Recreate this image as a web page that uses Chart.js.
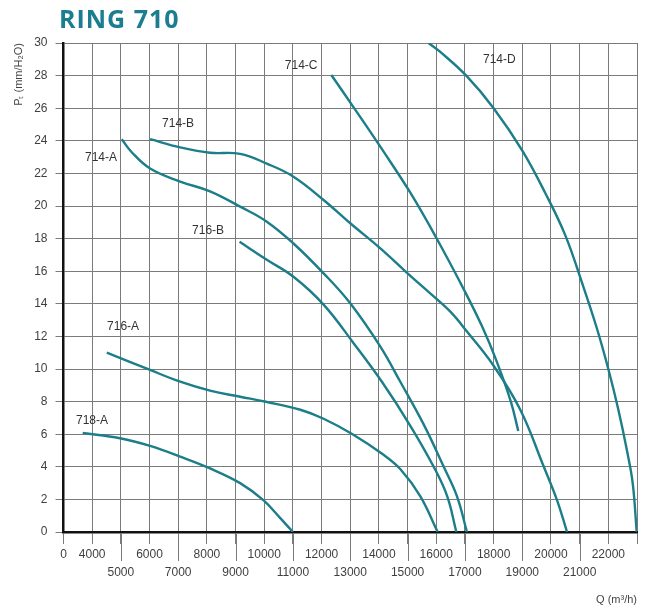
<!DOCTYPE html>
<html>
<head>
<meta charset="utf-8">
<title>RING 710</title>
<script src="https://cdn.jsdelivr.net/npm/chart.js@4/dist/chart.umd.min.js"></script>
<style>
  html, body { margin: 0; padding: 0; background: #ffffff; }
  #wrap { width: 645px; height: 611px; position: relative; }
  canvas { display: block; }
</style>
</head>
<body>
<div id="wrap"><canvas id="c" width="645" height="611"></canvas></div>
<script>
// Fan performance curves, RING 710: total pressure Pt (mm H2O) against flow Q (m3/h)

// Axis ranges and tick steps
const qMin = 3000, qMax = 23000, qStep = 1000;
const pMin = 0, pMax = 30, pStep = 2;

// Curve 718-A
const q718A = [3670, 4970, 6020, 7070, 8110, 9160, 9970, 10560, 11000];
const p718A = [6.07, 5.75, 5.28, 4.62, 3.9, 3.0, 1.95, 0.85, 0];

// Curve 716-A
const q716A = [4510, 6020, 7070, 8110, 9160, 10060, 11260, 12070, 13080, 14110, 14750, 15440, 16050];
const p716A = [11.0, 9.94, 9.22, 8.67, 8.3, 7.99, 7.5, 6.95, 6.0, 4.8, 3.85, 2.2, 0];

// Curve 716-B
const q716B = [9140, 10090, 11020, 12070, 13110, 14110, 15100, 15910, 16380, 16700];
const p716B = [17.8, 16.7, 15.66, 13.95, 11.6, 9.2, 6.5, 4.0, 2.2, 0];

// Curve 714-A
const q714A = [5030, 5380, 6020, 7070, 8110, 9160, 10090, 11020, 12070, 13000, 14050, 14750, 15560, 16260, 16720, 17070];
const p714A = [24.1, 23.3, 22.3, 21.5, 20.9, 19.96, 19.04, 17.7, 15.87, 14.03, 11.37, 9.2, 6.6, 4.0, 2.2, 0];

// Curve 714-B
const q714B = [6020, 7070, 8110, 9160, 10090, 11020, 12070, 13000, 14050, 14980, 15910, 16500, 17070, 18000, 18930, 19750, 20210, 20560];
const p714B = [24.1, 23.6, 23.27, 23.2, 22.6, 21.8, 20.37, 18.94, 17.4, 15.9, 14.45, 13.5, 12.3, 10.2, 7.5, 4.0, 1.96, 0];

// Curve 714-C
const q714C = [12340, 13100, 14100, 15100, 16000, 17000, 17600, 18100, 18600, 18860];
const p714C = [28.04, 26.1, 23.5, 20.8, 18.05, 14.75, 12.6, 10.5, 8.0, 6.2];

// Curve 714-D
const q714D = [15730, 16140, 17070, 18000, 19000, 19800, 20500, 21100, 21600, 22000, 22350, 22650, 22850, 22990];
const p714D = [30, 29.45, 27.95, 26.0, 23.4, 20.8, 18.2, 15.2, 12.5, 10.0, 7.5, 5.0, 3.0, 0];

// Curve names
const curveNames = ['718-A', '716-A', '716-B', '714-A', '714-B', '714-C', '714-D'];
const curveQ = [q718A, q716A, q716B, q714A, q714B, q714C, q714D];
const curveP = [p718A, p716A, p716B, p714A, p714B, p714C, p714D];

// Where each curve name is written, in data units (Q, Pt)
const nameQ = [3995, 5077, 8043, 4309, 6996, 11289, 18199];
const nameP = [6.81, 12.58, 18.47, 22.94, 25.03, 28.59, 28.96];

const TEAL = '#1b7e88';
const GRID = '#7b7b7b';
const TICKTXT = '#3f3f3f';
const FONT = "'Liberation Sans', Arial, sans-serif";

const datasets = curveNames.map((name, i) => ({
  label: name,
  data: curveQ[i].map((q, k) => ({ x: q, y: curveP[i][k] })),
  borderColor: TEAL,
  backgroundColor: TEAL,
  borderWidth: 2.4,
  pointRadius: 0,
  fill: false,
  tension: 0.4
}));

// Heading in the top-left corner
const headingPlugin = {
  id: 'heading',
  afterDraw(chart) {
    const ctx = chart.ctx;
    ctx.save();
    ctx.fillStyle = '#1a7d90';
    ctx.font = "bold 25px 'Open Sans', sans-serif";
    if ('letterSpacing' in ctx) ctx.letterSpacing = '1px';
    ctx.textAlign = 'left';
    ctx.textBaseline = 'alphabetic';
    ctx.fillText('RING 710', 59, 28);
    ctx.restore();
  }
};

// Longer tick marks under the odd thousands, reaching the second label row
const longTicksPlugin = {
  id: 'longTicks',
  afterDraw(chart) {
    const xs = chart.scales.x;
    const ctx = chart.ctx;
    const y0 = chart.chartArea.bottom;
    ctx.save();
    ctx.strokeStyle = GRID;
    ctx.lineWidth = 1;
    xs.ticks.forEach(t => {
      const v = t.value;
      if (v > qMin && v < qMax && ((v / 1000) % 2 === 1)) {
        const px = Math.round(xs.getPixelForValue(v)) + 0.5;
        ctx.beginPath();
        ctx.moveTo(px, y0 + 2);
        ctx.lineTo(px, y0 + 29);
        ctx.stroke();
      }
    });
    ctx.restore();
  }
};

// Curve names written next to their curves
const curveNamePlugin = {
  id: 'curveNames',
  afterDatasetsDraw(chart) {
    const xs = chart.scales.x, ys = chart.scales.y;
    const ctx = chart.ctx;
    ctx.save();
    ctx.fillStyle = '#333333';
    ctx.font = '12px ' + FONT;
    ctx.textAlign = 'center';
    ctx.textBaseline = 'middle';
    curveNames.forEach((name, i) => {
      ctx.fillText(name, xs.getPixelForValue(nameQ[i]), ys.getPixelForValue(nameP[i]));
    });
    ctx.restore();
  }
};

new Chart(document.getElementById('c'), {
  type: 'line',
  data: { datasets },
  options: {
    responsive: false,
    animation: false,
    events: [],
    layout: { padding: { top: 43, right: 8, left: 0, bottom: 0 } },
    plugins: {
      legend: { display: false },
      tooltip: { enabled: false },
      title: { display: false }
    },
    scales: {
      x: {
        type: 'linear',
        min: qMin,
        max: qMax,
        afterFit(scale) { scale.height = 79; },
        afterBuildTicks(scale) {
          const t = [];
          for (let v = qMin; v <= qMax; v += qStep) t.push({ value: v });
          scale.ticks = t;
        },
        ticks: {
          stepSize: qStep,
          autoSkip: false,
          maxRotation: 0,
          minRotation: 0,
          padding: 2,
          color: TICKTXT,
          font: { family: FONT, size: 12, lineHeight: 1.5 },
          callback(v) {
            if (v === qMin) return '0';
            if (v === qMax) return '';
            return ((v / 1000) % 2 === 1) ? ['', String(v)] : String(v);
          }
        },
        grid: {
          color: GRID,
          lineWidth: 1,
          tickLength: 12,
          tickColor: GRID,
          tickWidth: 1
        },
        border: { display: true, color: '#111111', width: 2.5 },
        title: {
          display: true,
          text: 'Q (m³/h)',
          align: 'end',
          color: '#444444',
          font: { family: FONT, size: 11 },
          padding: { top: 0, bottom: 4 }
        }
      },
      y: {
        type: 'linear',
        min: pMin,
        max: pMax,
        afterFit(scale) { scale.width = 63.5; },
        ticks: {
          stepSize: pStep,
          padding: 8,
          color: TICKTXT,
          font: { family: FONT, size: 12 }
        },
        grid: {
          color: GRID,
          lineWidth: 1,
          tickLength: 8,
          tickColor: GRID,
          tickWidth: 1
        },
        border: { display: true, color: '#111111', width: 2.5 },
        title: {
          display: true,
          text: 'Pₜ (mm/H₂O)',
          align: 'end',
          color: '#444444',
          font: { family: FONT, size: 11 },
          padding: { top: 12, bottom: 0 }
        }
      }
    }
  },
  plugins: [headingPlugin, longTicksPlugin, curveNamePlugin]
});
</script>
</body>
</html>
